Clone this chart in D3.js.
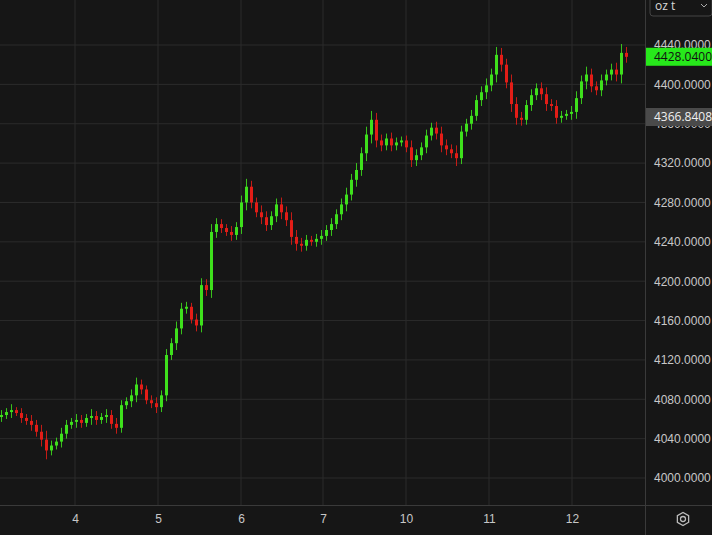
<!DOCTYPE html>
<html>
<head>
<meta charset="utf-8">
<script src="https://cdn.jsdelivr.net/npm/d3@7"></script>
<style>
  body { margin: 0; background: #161616; }
  svg { display: block; font-family: "Open Sans", "DejaVu Sans", sans-serif; }
</style>
</head>
<body>
<svg id="chart" width="712" height="535"></svg>
<script>
// closes, one bar every slot
const closes = [4064, 4067, 4069, 4066, 4061, 4058, 4054, 4047, 4039, 4028, 4033, 4037, 4045, 4054, 4057, 4059,
  4056, 4061, 4063, 4059, 4062, 4064, 4055, 4051, 4074, 4078, 4084, 4095, 4090, 4079, 4076, 4072, 4084, 4125,
  4137, 4152, 4172, 4174, 4161, 4155, 4196, 4191, 4250, 4258, 4254, 4250, 4247, 4255, 4280, 4296, 4280, 4270,
  4265, 4257, 4266, 4278, 4270, 4262, 4245, 4238, 4236, 4242, 4240, 4243, 4246, 4252, 4258, 4268, 4278, 4288,
  4303, 4313, 4330, 4349, 4364, 4343, 4338, 4345, 4338, 4341, 4343, 4336, 4323, 4328, 4336, 4348, 4356, 4350,
  4338, 4334, 4330, 4325, 4352, 4360, 4368, 4384, 4392, 4399, 4410, 4430, 4420, 4402, 4380, 4366, 4364, 4379,
  4389, 4396, 4390, 4380, 4378, 4366, 4368, 4370, 4372, 4386, 4403, 4410, 4398, 4394, 4404, 4410, 4415, 4410,
  4432, 4428];
const wicks = [5, 4, 6, 3, 5, 4, 6, 5, 7, 9, 5, 4, 6, 5, 4, 6, 5, 4, 7, 5, 4, 6, 5, 6, 5, 4, 6, 7, 5, 4, 5, 6, 5, 6,
  5, 7, 6, 5, 4, 6, 7, 6, 8, 6, 5, 4, 6, 5, 7, 8, 6, 5, 7, 6, 5, 6, 7, 6, 8, 7, 6, 5, 4, 5, 6, 5, 6, 5, 6, 7,
  6, 7, 6, 8, 9, 7, 6, 5, 6, 5, 4, 5, 7, 6, 5, 6, 5, 6, 7, 6, 5, 8, 6, 5, 6, 5, 6, 7, 6, 8, 7, 6, 8, 7, 6, 5,
  6, 5, 6, 7, 5, 6, 5, 4, 6, 7, 6, 8, 6, 5, 6, 5, 6, 7, 9, 6];
const dayLabels = ["4", "5", "6", "7", "10", "11", "12"];
const dayPos = [15, 31.6, 48.2, 64.6, 81.2, 97.8, 114.4];
const priceTicks = [4000, 4040, 4080, 4120, 4160, 4200, 4240, 4280, 4320, 4360, 4400, 4440];
const lastPrice = 4428.04;
const refPrice = 4366.8408;

const W = 712, H = 535, plotR = 645, plotB = 505;
const svg = d3.select("#chart");
const x = d3.scaleLinear().domain([0, 125]).range([0, 625]);
const y = d3.scaleLinear().domain([4000, 4440]).range([478, 45]);

svg.append("rect").attr("width", W).attr("height", H).attr("fill", "#161616");

// grid
svg.append("g").selectAll("line").data(priceTicks).join("line")
  .attr("x1", 0).attr("x2", plotR).attr("y1", d => y(d)).attr("y2", d => y(d))
  .attr("stroke", "#2b2b2b");
svg.append("g").selectAll("line").data(dayPos).join("line")
  .attr("x1", d => x(d)).attr("x2", d => x(d)).attr("y1", 0).attr("y2", plotB)
  .attr("stroke", "#2b2b2b");

// bars
const bars = closes.map((c, i) => {
  const o = i ? closes[i - 1] : c - 2;
  return { i, o, c, h: Math.max(o, c) + wicks[i], l: Math.min(o, c) - wicks[i] };
});
const col = d => d.c >= d.o ? "#3ee01c" : "#e31d17";
const g = svg.append("g");
g.selectAll("line").data(bars).join("line")
  .attr("x1", d => x(d.i) + 1.5).attr("x2", d => x(d.i) + 1.5)
  .attr("y1", d => y(d.h)).attr("y2", d => y(d.l))
  .attr("stroke", col).attr("stroke-width", 1).attr("opacity", 0.85);
g.selectAll("rect").data(bars).join("rect")
  .attr("x", d => x(d.i)).attr("width", 3)
  .attr("y", d => y(Math.max(d.o, d.c)))
  .attr("height", d => Math.max(1, Math.abs(y(d.o) - y(d.c))))
  .attr("fill", col);

// axes frame
svg.append("line").attr("x1", plotR + 0.5).attr("x2", plotR + 0.5).attr("y1", 0).attr("y2", H).attr("stroke", "#3a3a3a");
svg.append("line").attr("x1", 0).attr("x2", W).attr("y1", plotB + 0.5).attr("y2", plotB + 0.5).attr("stroke", "#3a3a3a");

// price axis
const ya = svg.append("g").attr("transform", `translate(${plotR},0)`)
  .call(d3.axisRight(y).tickValues(priceTicks).tickSize(0).tickPadding(9).tickFormat(d => d.toFixed(4)));
ya.select(".domain").remove();
ya.selectAll("text").attr("fill", "#c8c8c8").attr("font-size", 12);

// day axis
const xa = svg.append("g").attr("transform", `translate(0,${plotB})`)
  .call(d3.axisBottom(x).tickValues(dayPos).tickSize(0).tickPadding(9).tickFormat((d, i) => dayLabels[i]));
xa.select(".domain").remove();
xa.selectAll("text").attr("fill", "#c8c8c8").attr("font-size", 12);

// price labels
function tag(v, bg, fg) {
  svg.append("rect").attr("x", plotR + 1).attr("y", y(v) - 9).attr("width", W - plotR - 1).attr("height", 18).attr("fill", bg);
  svg.append("text").attr("x", plotR + 9).attr("y", y(v) + 4.5).attr("fill", fg).attr("font-size", 12).text(v.toFixed(4));
}
tag(lastPrice, "#27e81b", "#111");
tag(refPrice, "#4a4a4a", "#f0f0f0");

// unit box
svg.append("rect").attr("x", plotR + 5).attr("y", -4).attr("width", 62).attr("height", 20).attr("rx", 3)
  .attr("fill", "#161616").attr("stroke", "#444");
svg.append("text").attr("x", plotR + 10).attr("y", 10).attr("fill", "#d8d8d8").attr("font-size", 12).text("oz t");
svg.append("path").attr("d", `M${plotR + 56},4 l3,3 l3,-3`).attr("fill", "none").attr("stroke", "#aaa");

// settings icon
const gear = svg.append("g").attr("transform", `translate(683,519)`);
gear.append("path").attr("d", d3.symbol(d3.symbolWye).size(0)()).attr("fill", "none");
gear.append("polygon").attr("points", d3.range(6).map(k => {
  const a = Math.PI / 3 * k + Math.PI / 6; return [6.5 * Math.cos(a), 6.5 * Math.sin(a)].join(",");
}).join(" ")).attr("fill", "none").attr("stroke", "#bbb").attr("stroke-width", 1.3);
gear.append("circle").attr("r", 2.5).attr("fill", "none").attr("stroke", "#bbb").attr("stroke-width", 1.3);
</script>
</body>
</html>
